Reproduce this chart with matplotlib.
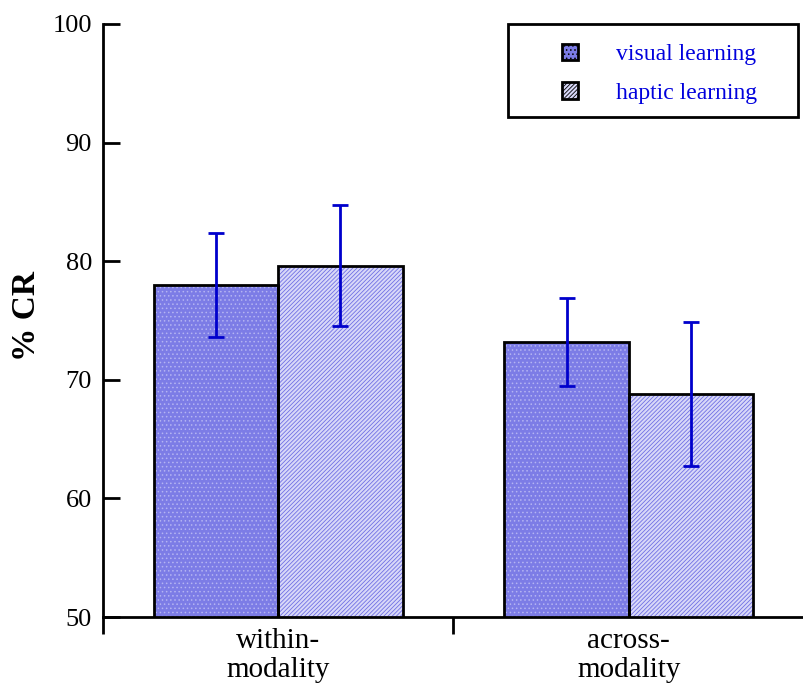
import matplotlib
matplotlib.use("Agg")
import matplotlib.pyplot as plt
from matplotlib.patches import Patch, Rectangle
import numpy as np

categories = ["within-\nmodality", "across-\nmodality"]
series_names = ["visual learning", "haptic learning"]
visual_vals = [78.0, 73.2]
haptic_vals = [79.6, 68.8]
visual_err = [4.4, 3.7]
haptic_err = [5.1, 6.1]
yticks = [50, 60, 70, 80, 90, 100]

plt.rcParams['font.family'] = ['Liberation Serif', 'DejaVu Serif']
plt.rcParams['hatch.linewidth'] = 0.6

fig = plt.figure(figsize=(8.04, 6.86), dpi=100)
ax = fig.add_axes([103/804, 1-617/686, 1-103/804, (617-24)/686])

centers = np.arange(len(categories)) + 0.5
w = 0.355
vis_face, vis_hatch = '#7c7ce6', '#b4b4f2'
hap_face, hap_hatch = '#d8d8f8', '#7070e4'

ax.bar(centers - w/2, visual_vals, w, facecolor=vis_face, edgecolor=vis_hatch,
       hatch='....', linewidth=0, zorder=2)
ax.bar(centers + w/2, haptic_vals, w, facecolor=hap_face, edgecolor=hap_hatch,
       hatch='////////', linewidth=0, zorder=2)
ax.bar(centers - w/2, visual_vals, w, fill=False, edgecolor='black', linewidth=2, zorder=3)
ax.bar(centers + w/2, haptic_vals, w, fill=False, edgecolor='black', linewidth=2, zorder=3)

ax.errorbar(centers - w/2, visual_vals, yerr=visual_err, fmt='none', ecolor='#0000cc',
            elinewidth=2, capsize=5.8, capthick=2, zorder=4)
ax.errorbar(centers + w/2, haptic_vals, yerr=haptic_err, fmt='none', ecolor='#0000cc',
            elinewidth=2, capsize=5.8, capthick=2, zorder=4)

ax.set_ylim(50, 100)
ax.set_xlim(0, 1.98)
ax.set_yticks(yticks)
ax.set_yticklabels([str(t) for t in yticks], fontsize=19)
ax.tick_params(axis='y', direction='in', length=12, width=2, pad=8)

ax.set_xticks([0, 1, 2])
ax.set_xticklabels([])
ax.tick_params(axis='x', which='major', direction='out', length=12, width=2)
ax.set_xticks(centers, minor=True)
ax.set_xticklabels(categories, minor=True, fontsize=21, linespacing=1.12)
ax.tick_params(axis='x', which='minor', length=0, pad=8)

for s in ['top', 'right']:
    ax.spines[s].set_visible(False)
for s in ['left', 'bottom']:
    ax.spines[s].set_linewidth(2)
    ax.spines[s].set_zorder(5)

ax.set_ylabel('% CR', fontsize=24, fontweight='bold')
ax.yaxis.set_label_coords(-(103-42)/701, (617-316)/593)

fx = lambda px: (px-103)/701
fy = lambda py: (617-py)/593
ax.add_patch(Rectangle((fx(508), fy(117)), fx(798)-fx(508), fy(24)-fy(117),
                       transform=ax.transAxes, fill=False, edgecolor='black', linewidth=2,
                       zorder=6, clip_on=False))
handles = [Patch(facecolor=vis_face, edgecolor='black', hatch='....', linewidth=2),
           Patch(facecolor=hap_face, edgecolor='black', hatch='////////', linewidth=2)]
leg = ax.legend(handles, series_names, loc='upper left', bbox_to_anchor=(fx(562), fy(44)),
                frameon=False, fontsize=17, handlelength=0.68, handleheight=0.68,
                handletextpad=1.6, labelspacing=0.72, borderpad=0, borderaxespad=0)
for t in leg.get_texts():
    t.set_color('#0000dd')

fig.savefig('out.png', dpi=100)
